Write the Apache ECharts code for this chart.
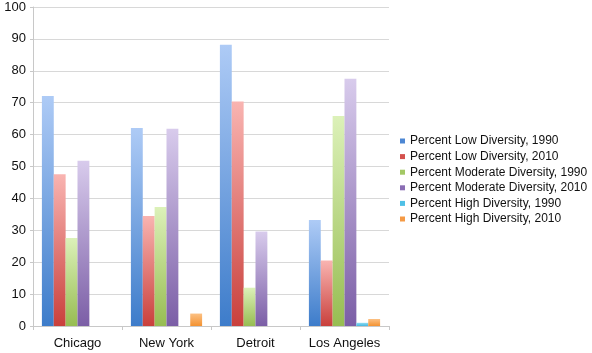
<!DOCTYPE html>
<html>
<head>
<meta charset="utf-8">
<script src="https://cdn.jsdelivr.net/npm/echarts@6/dist/echarts.min.js"></script>
<style>
  html, body { margin: 0; padding: 0; background: #fff; }
  #chart { width: 592px; height: 353px; }
</style>
</head>
<body>
<div id="chart"></div>
<script>
// Chart data
var cities = ['Chicago', 'New York', 'Detroit', 'Los Angeles'];
var seriesNames = [
    'Percent Low Diversity, 1990',
    'Percent Low Diversity, 2010',
    'Percent Moderate Diversity, 1990',
    'Percent Moderate Diversity, 2010',
    'Percent High Diversity, 1990',
    'Percent High Diversity, 2010'
];
var lowDiversity1990 = [72.1, 62.1, 88.2, 33.2];
var lowDiversity2010 = [47.6, 34.5, 70.4, 20.5];
var moderateDiversity1990 = [27.6, 37.3, 12.0, 65.8];
var moderateDiversity2010 = [51.8, 61.8, 29.6, 77.5];
var highDiversity1990 = [0, 0, 0, 1.0];
var highDiversity2010 = [0, 3.9, 0, 2.2];
var yTicks = [0, 10, 20, 30, 40, 50, 60, 70, 80, 90, 100];

var seriesValues = [
    lowDiversity1990, lowDiversity2010,
    moderateDiversity1990, moderateDiversity2010,
    highDiversity1990, highDiversity2010
];

// Top (light) and bottom (dark) colour of each bar gradient
var gradients = [
    ['#aecbf6', '#3d7cca'],
    ['#f9b4b1', '#c9403c'],
    ['#dcf1b9', '#97bd52'],
    ['#d8cbec', '#7b5ea6'],
    ['#8fdcf2', '#45b7e0'],
    ['#fcc184', '#f39232']
];
var legendColors = ['#4d87d3', '#d4514d', '#a3c864', '#8a6db4', '#4fc0e6', '#f59a45'];

var myChart = echarts.init(document.getElementById('chart'));

var series = seriesNames.map(function (name, i) {
    return {
        name: name,
        type: 'bar',
        data: seriesValues[i],
        barGap: '0%',
        barCategoryGap: '20%',
        itemStyle: {
            color: new echarts.graphic.LinearGradient(0, 0, 0, 1, [
                {offset: 0, color: gradients[i][0]},
                {offset: 1, color: gradients[i][1]}
            ])
        },
        animation: false
    };
});

var option = {
    animation: false,
    color: legendColors,
    textStyle: {fontFamily: 'Liberation Sans, Helvetica, Arial, sans-serif'},
    grid: {left: 33, right: 203, top: 7, bottom: 27, containLabel: false},
    legend: {
        orient: 'vertical',
        left: 395,
        top: 130,
        itemWidth: 5,
        itemHeight: 5,
        itemGap: 3.6,
        icon: 'rect',
        textStyle: {fontSize: 12, color: '#111', lineHeight: 12},
        data: seriesNames.map(function (n, i) {
            return {name: n, itemStyle: {color: legendColors[i]}};
        })
    },
    xAxis: {
        type: 'category',
        data: cities,
        axisLine: {lineStyle: {color: '#c8c8c8'}},
        axisTick: {show: true, length: 4, lineStyle: {color: '#c8c8c8'}},
        axisLabel: {fontSize: 13, color: '#111', margin: 11, interval: 0}
    },
    yAxis: {
        type: 'value',
        min: yTicks[0],
        max: yTicks[yTicks.length - 1],
        interval: 10,
        axisLine: {show: true, lineStyle: {color: '#c8c8c8'}},
        axisTick: {show: true, length: 3, lineStyle: {color: '#c8c8c8'}},
        axisLabel: {fontSize: 13, color: '#111', margin: 7},
        splitLine: {lineStyle: {color: '#d8d8d8'}}
    },
    series: series
};
myChart.setOption(option);
</script>
</body>
</html>
